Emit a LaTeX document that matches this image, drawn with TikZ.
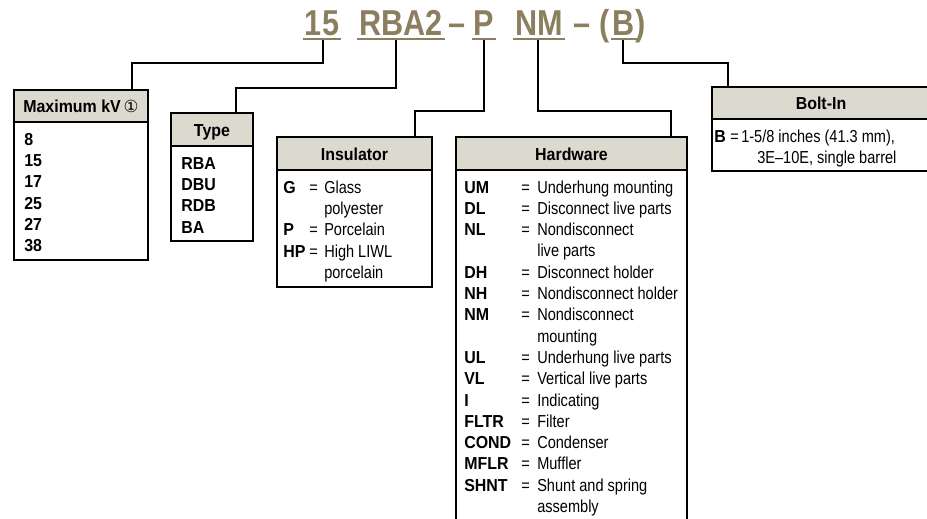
\documentclass[tikz,border=0pt]{standalone}
\usepackage{fontspec}
\setmainfont{Liberation Sans}[FakeStretch=0.84, BoldFeatures={FakeStretch=0.92}]
\newfontfamily\titlefont{Liberation Sans}[FakeStretch=0.85]
\newfontfamily\symfont{DejaVu Sans}
\definecolor{tan}{HTML}{8C7F5F}
\definecolor{hdr}{HTML}{DCDACF}
\tikzset{
  frame/.style={draw=black, line width=0.9pt},
  conn/.style={draw=black, line width=1.3pt},
  txt/.style={anchor=base west, inner sep=0pt, font=\fontsize{13}{15}\selectfont},
  code/.style={anchor=base west, inner sep=0pt, font=\fontsize{13}{15}\selectfont\bfseries},
  hd/.style={anchor=base, inner sep=0pt, font=\fontsize{13}{15}\selectfont\bfseries},
  ttl/.style={anchor=base, inner sep=0pt, text=tan, font=\fontsize{27}{30}\selectfont\titlefont\bfseries},
  ul/.style={draw=tan, line width=1.6pt}
}
\begin{document}
\begin{tikzpicture}[x=0.75pt,y=-0.75pt]
\useasboundingbox (0,0) rectangle (927,518);
\clip (0,0) rectangle (927,518);

% ---------- title ----------
\node[ttl] (t15) at (322,35) {15};
\node[ttl] (tR)  at (401,35) {RBA2};
\node[ttl] (td1) at (457,35) {–};
\node[ttl] (tP)  at (484,35) {P};
\node[ttl] (tN)  at (539,35) {NM};
\node[ttl] (td2) at (582,35) {–};
\node[ttl] (tpo) at (605,35) {(};
\node[ttl] (tB)  at (624,35) {B};
\node[ttl] (tpc) at (641,35) {)};
\foreach \n in {t15,tR,tP,tN,tB}{
  \draw[ul] ([xshift=-1.5pt,yshift=-3pt]\n.base west) -- ([xshift=1.5pt,yshift=-3pt]\n.base east);
}

% connector start points
\coordinate (c15) at (323,40);
\coordinate (cR)  at (396,40);
\coordinate (cP)  at (484,40);
\coordinate (cN)  at (538,40);
\coordinate (cB)  at (623,40);
% connector end points (box tops)
\coordinate (mkvTop)  at (132,90);
\coordinate (typeTop) at (236,113);
\coordinate (insTop)  at (415,137);
\coordinate (hwTop)   at (671,137);
\coordinate (boltTop) at (728,87);

% ---------- boxes ----------
% Maximum kV
\fill[hdr] (14,90) rectangle (148,122);
\draw[frame] (14,90) rectangle (148,260);
\draw[frame] (14,122) -- (148,122);
% Type
\fill[hdr] (171,113) rectangle (253,146);
\draw[frame] (171,113) rectangle (253,241);
\draw[frame] (171,146) -- (253,146);
% Insulator
\fill[hdr] (277,137) rectangle (432,170);
\draw[frame] (277,137) rectangle (432,287);
\draw[frame] (277,170) -- (432,170);
% Hardware (open at bottom)
\fill[hdr] (456,137) rectangle (687,170);
\draw[frame] (456,525) -- (456,137) -- (687,137) -- (687,525);
\draw[frame] (456,170) -- (687,170);
% Bolt-In (open at right)
\fill[hdr] (712,87) rectangle (935,119);
\draw[frame] (935,87) -- (712,87) -- (712,171) -- (935,171);
\draw[frame] (712,119) -- (935,119);

% ---------- connectors ----------
\draw[conn] (c15) -- ++(0,23) -| (mkvTop);
\draw[conn] (cR)  -- ++(0,48) -| (typeTop);
\draw[conn] (cP)  -- ++(0,71) -| (insTop);
\draw[conn] (cN)  -- ++(0,71) -| (hwTop);
\draw[conn] (cB)  -- ++(0,23) -| (boltTop);

% ---------- headers ----------
\node[hd] (hMkv)  at (81,112.5) {Maximum kV\,{\symfont\fontsize{12.5}{12.5}\selectfont\mdseries ①}};
\node[hd] (hType) at (212,136.5) {Type};
\node[hd] (hIns)  at (354.5,160) {Insulator};
\node[hd] (hHw)   at (571.5,160) {Hardware};
\node[hd] (hBolt) at (821,109) {Bolt-In};

% ---------- Maximum kV items ----------
\foreach \t [count=\i from 0] in {8,15,17,25,27,38}{
  \node[code] (kv\i) at (24,145+21.35*\i) {\t};
}
% ---------- Type items ----------
\foreach \t [count=\i from 0] in {RBA,DBU,RDB,BA}{
  \node[code] (ty\i) at (181,169+21.35*\i) {\t};
}
% ---------- Insulator items ----------
\foreach \c/\t [count=\i from 0] in {G/Glass,/polyester,P/Porcelain,HP/High LIWL,/porcelain}{
  \node[code] (insc\i) at (283,193+21.35*\i) {\c};
  \node[txt]  (inst\i) at (324,193+21.35*\i) {\t};
}
\foreach \i in {0,2,3}{
  \node[txt] (inse\i) at (309,193+21.35*\i) {=};
}
% ---------- Hardware items ----------
\foreach \c/\t [count=\i from 0] in {
  UM/Underhung mounting, DL/Disconnect live parts, NL/Nondisconnect, /live parts,
  DH/Disconnect holder, NH/Nondisconnect holder, NM/Nondisconnect, /mounting,
  UL/Underhung live parts, VL/Vertical live parts, I/Indicating, FLTR/Filter,
  COND/Condenser, MFLR/Muffler, SHNT/Shunt and spring, /assembly}{
  \node[code] (hwc\i) at (464,193+21.3*\i) {\c};
  \node[txt]  (hwt\i) at (537,193+21.3*\i) {\t};
}
\foreach \i in {0,1,2,4,5,6,8,9,10,11,12,13,14}{
  \node[txt] (hwe\i) at (521,193+21.3*\i) {=};
}
% ---------- Bolt-In items ----------
\node[code] (bc) at (714,142) {B};
\node[txt]  (be) at (730,142) {=};
\node[txt]  (bt1) at (741,142) {1-5/8 inches (41.3 mm),};
\node[txt]  (bt2) at (757,163) {3E–10E, single barrel};
\end{tikzpicture}
\end{document}
